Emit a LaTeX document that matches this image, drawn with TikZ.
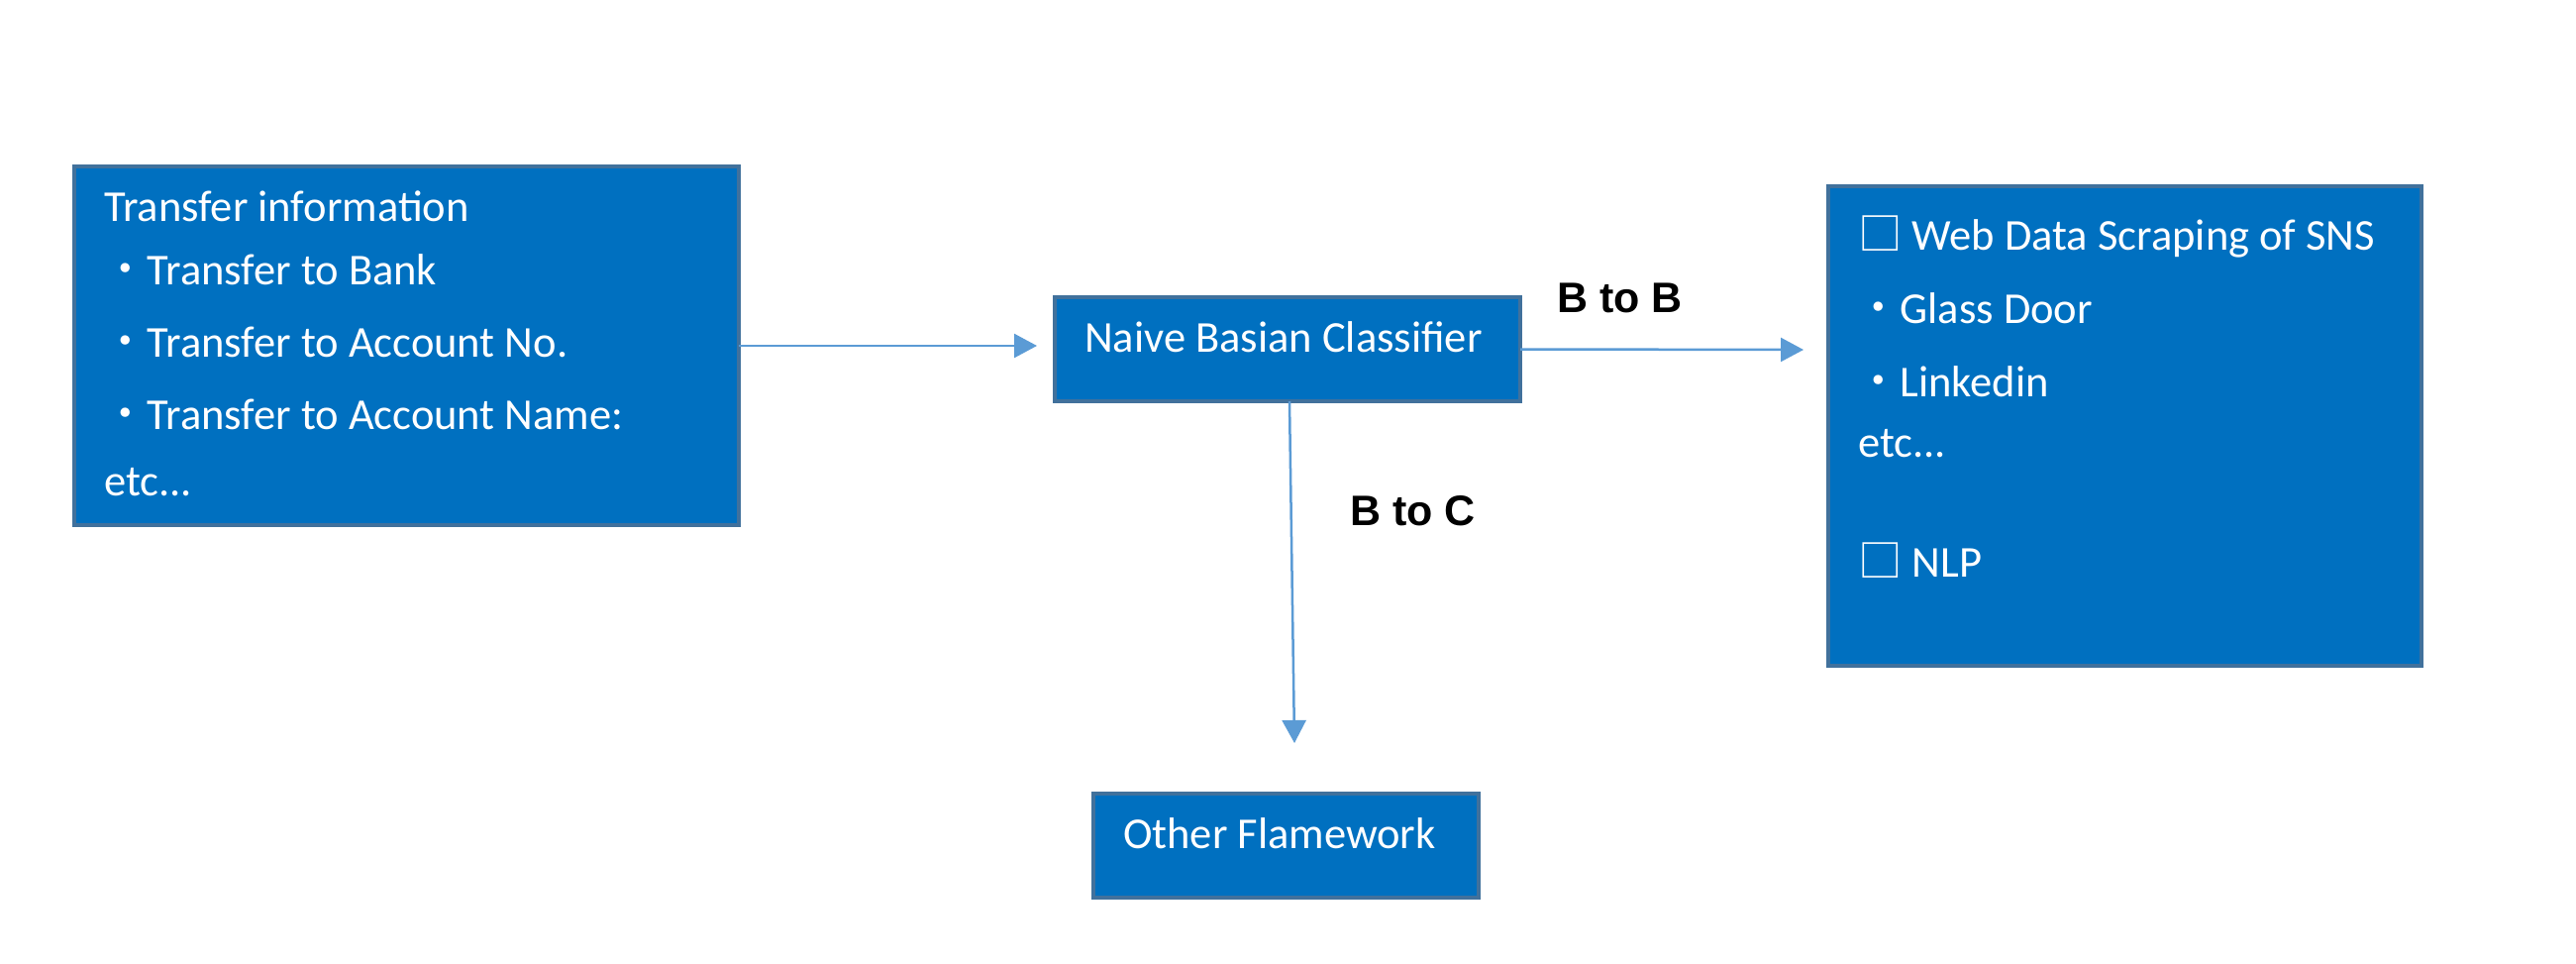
\documentclass[tikz,border=0pt]{standalone}
\usepackage{fontspec}
\setmainfont{Carlito}
\newfontfamily\cjk{Noto Sans CJK JP}
\newfontfamily\lblfont{Liberation Sans}
\usetikzlibrary{arrows.meta}
\definecolor{boxfill}{HTML}{0070C0}
\definecolor{boxline}{HTML}{41719C}
\definecolor{arrcol}{HTML}{5B9BD5}
\begin{document}
\begin{tikzpicture}[x=1pt,y=-1pt,
  box/.style={draw=boxline,line width=4pt,fill=boxfill,rectangle,inner sep=0pt,outer sep=0pt,anchor=north west},
  txt/.style={text=white,anchor=base west,inner sep=0pt,font=\fontsize{44.5}{50}\selectfont},
  lbl/.style={text=black,anchor=base west,inner sep=0pt,font=\lblfont\bfseries\fontsize{43}{50}\selectfont},
  conn/.style={draw=arrcol,line width=2.5pt,-{Triangle[length=23pt,width=24pt]}}]
\useasboundingbox (0,0) rectangle (2601,972);
\fill[white] (0,0) rectangle (2601,972);

% boxes
\node[box,minimum width=671pt,minimum height=362pt] (L) at (75,168) {};
\node[box,minimum width=470pt,minimum height=105pt] (M) at (1065,300) {};
\node[box,minimum width=599pt,minimum height=484pt] (R) at (1846,188) {};
\node[box,minimum width=389pt,minimum height=105pt] (B) at (1104,801) {};

% left box text
\node[txt] (l1) at (105,223) {Transfer information};
\node[txt] (l2) at (104,287) {{\cjk ・}Transfer to Bank};
\node[txt] (l3) at (104,360) {{\cjk ・}Transfer to Account No.};
\node[txt] (l4) at (104,433) {{\cjk ・}Transfer to Account Name:};
\node[txt] (l5) at (105,500) {etc...};

% middle and bottom text
\node[txt] (m1) at (1095,355) {Naive Basian Classifier};
\node[txt] (b1) at (1134,856) {Other Flamework};

% right box text
\node[txt] (r1) at (1876,252) {{\cjk □} Web Data Scraping of SNS};
\node[txt] (r2) at (1874,326) {{\cjk ・}Glass Door};
\node[txt] (r3) at (1874,400) {{\cjk ・}Linkedin};
\node[txt] (r4) at (1876,461) {etc...};
\node[txt] (r5) at (1876,582) {{\cjk □} NLP};

% connector labels
\node[lbl] (bb) at (1572,315) {B to B};
\node[lbl] (bc) at (1363,530) {B to C};

% free ends
\coordinate (e1) at (1047,349);
\coordinate (e2) at (1821,353);
\coordinate (e3) at (1307,750);

\draw[conn] (L.east) -- (e1);
\draw[conn] (M.east) -- (e2);
\draw[conn] ([xshift=2pt]M.south) -- (e3);
\end{tikzpicture}
\end{document}
